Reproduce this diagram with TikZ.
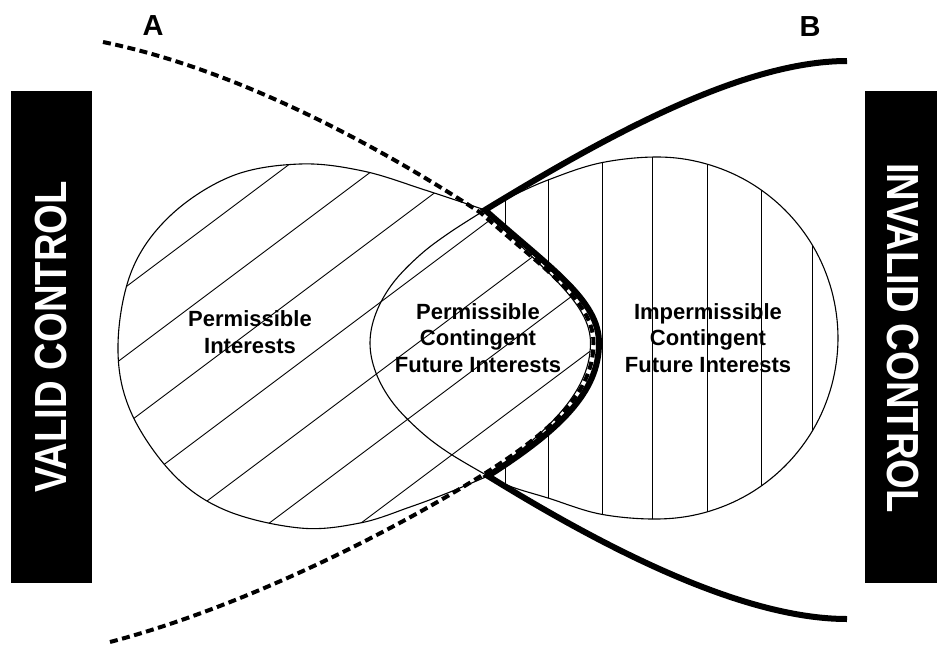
\documentclass[tikz,border=0pt]{standalone}
\usepackage{fontspec}
\setmainfont{Liberation Sans}
\begin{document}
\begin{tikzpicture}[x=1pt,y=-1pt,
  outline/.style={line width=1.1pt, black},
  hatch/.style={line width=0.9pt, black},
  curveA/.style={line width=4pt, dash pattern=on 8pt off 4.5pt, black},
  curveB/.style={line width=6pt, black, line join=miter},
  barlabel/.style={text=white, font=\fontsize{45}{45}\selectfont\bfseries, inner sep=0pt},
  zonelabel/.style={align=center, font=\fontsize{22}{26.5}\selectfont\bfseries, inner sep=0pt, text=black},
  letter/.style={font=\fontsize{29}{29}\selectfont\bfseries, inner sep=0pt}]

% canvas
\fill[white] (0,0) rectangle (937,646);
\useasboundingbox (0,0) rectangle (937,646);

% crossing points of the two boundaries and the tip of the bulge
\coordinate (T) at (485,210);
\coordinate (U) at (488,476);

% side bars
\fill[black] (11,91) rectangle (92,583);
\fill[black] (865,91) rectangle (937,583);
\node[barlabel, rotate=90] (validtext) at (51.5,337) {\scalebox{0.85}[1]{VALID CONTROL}};
\node[barlabel, rotate=-90] (invalidtext) at (903,338) {\scalebox{0.85}[1]{INVALID CONTROL}};

% diagonal hatching of the left teardrop
\begin{scope}
  \clip plot[smooth, tension=0.6] coordinates {(485,210) (425,190) (363,171) (300,164) (232,176) (171,215) (132,270) (118,345) (130,410) (172,473) (225,510) (300,528) (360,523) (410,507) (450,492) (488,476)}
     .. controls (552,428) and (590.5,390) .. (590.5,343) .. controls (590.5,302) and (543,271) .. (T) -- cycle;
  \foreach \o in {305,360,...,640}
    \draw[hatch] ({0.6*\o-800},{0.8*\o+600}) -- ({0.6*\o+800},{0.8*\o-600});
\end{scope}

% vertical hatching of the right region
\begin{scope}
  \clip plot[smooth, tension=0.6] coordinates {(485,210) (510,197) (548,180) (600,163) (657,157) (703.8,163.2) (747.5,181.2) (785,210) (813.8,247.5) (831.8,291.2) (838,338) (831.8,384.8) (813.8,428.5) (785,466) (747.5,494.8) (703.8,512.8) (657,519) (600,514) (548,498) (512,487) (488,476)}
     .. controls (560,430) and (599,392) .. (599,343) .. controls (599,300) and (550,268) .. (T) -- cycle;
  \foreach \xv in {505,548,602,652,707,761,812}
    \draw[hatch] (\xv,100) -- (\xv,580);
\end{scope}

% outlines of the three regions
\draw[outline] plot[smooth, tension=0.6] coordinates {(485,210) (425,190) (363,171) (300,164) (232,176) (171,215) (132,270) (118,345) (130,410) (172,473) (225,510) (300,528) (360,523) (410,507) (450,492) (488,476)}
     .. controls (552,428) and (590.5,390) .. (590.5,343) .. controls (590.5,302) and (543,271) .. (T) -- cycle;
\draw[outline] plot[smooth, tension=0.6] coordinates {(485,210) (510,197) (548,180) (600,163) (657,157) (703.8,163.2) (747.5,181.2) (785,210) (813.8,247.5) (831.8,291.2) (838,338) (831.8,384.8) (813.8,428.5) (785,466) (747.5,494.8) (703.8,512.8) (657,519) (600,514) (548,498) (512,487) (488,476)};
\draw[outline] plot[smooth, tension=0.6] coordinates {(485,210) (449,233) (420,255) (393,283) (376,313) (370,343) (376,373) (393,403) (420,431) (449,453) (488,476)};

% region labels
\node[zonelabel, font=\fontsize{22}{27.5}\selectfont\bfseries] (permissible) at (250,332) {Permissible\\Interests};
\node[zonelabel] (permcontingent) at (478,338) {Permissible\\Contingent\\Future Interests};
\node[zonelabel] (impermcontingent) at (708,338) {Impermissible\\Contingent\\Future Interests};

% boundary A (dashed), running just inside B along the bulge
\draw[curveA] (103,42) .. controls (250,72) and (400,160) .. (481,213)
  .. controls (545,270) and (593.5,301) .. (593.5,343)
  .. controls (593.5,391) and (555,429) .. (484,474)
  .. controls (400,527) and (250,605) .. (110,642);

% boundary B (solid)
\draw[curveB] (847,61) .. controls (740,61) and (600,140) .. (T)
  .. controls (550,268) and (599,300) .. (599,343)
  .. controls (599,392) and (560,430) .. (U)
  .. controls (600,545) and (740,619) .. (847,619);

% curve letters
\node[letter] (labelA) at (153,26) {A};
\node[letter] (labelB) at (810,27) {B};
\end{tikzpicture}
\end{document}
